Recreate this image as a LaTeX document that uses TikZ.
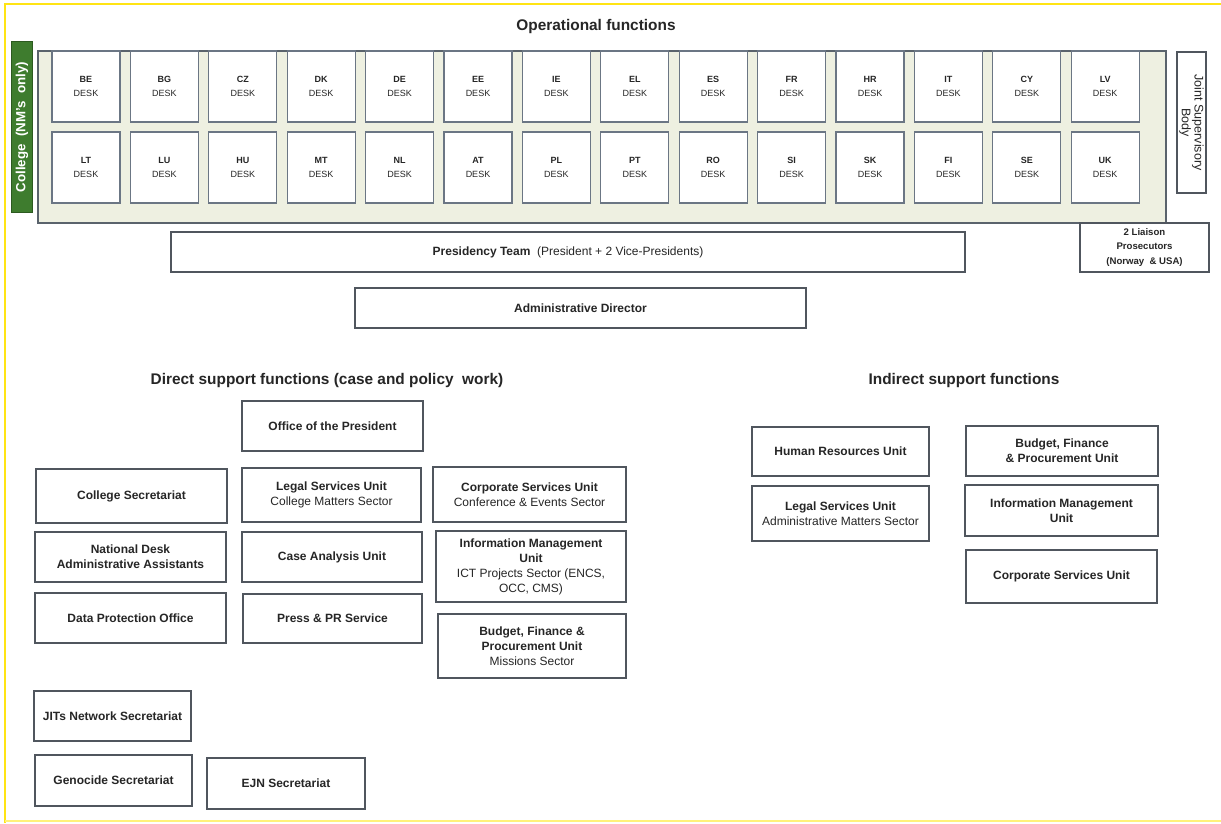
\documentclass[tikz,border=0pt]{standalone}
\usepackage{fontspec}
\setmainfont{Liberation Sans}
\definecolor{txt}{HTML}{262626}
\definecolor{bord}{HTML}{50565E}
\definecolor{deskbord}{HTML}{6B7684}
\definecolor{contfill}{HTML}{EEF0E1}
\definecolor{contbord}{HTML}{5A636C}
\definecolor{grn}{HTML}{3E7C2E}
\definecolor{grnd}{HTML}{2C5A20}
\definecolor{ylw}{HTML}{FFE414}
\definecolor{ylwl}{HTML}{FFF27A}
\tikzset{
  box/.style={draw=bord, line width=1.3pt, fill=white, inner sep=1pt, align=center,
    text=txt, font=\fontsize{12}{15}\selectfont},
  deskbox/.style={draw=deskbord, line width=1.1pt, fill=white, minimum width=68,
    minimum height=71, inner sep=0pt, align=center, text=txt, font=\fontsize{9}{14}\selectfont},
  head/.style={text=txt, font=\bfseries\fontsize{15.4}{18}\selectfont, inner sep=0pt},
}
\newcommand\bx[7][]{\node[box,minimum width={#5-#3},minimum height={#6-#4},#1] (#2) at ({(#3+#5)/2},{(#4+#6)/2}) {#7};}
\begin{document}
\begin{tikzpicture}[x=1pt,y=-1pt]
\useasboundingbox (0,0) rectangle (1221,823);
\fill[white] (0,0) rectangle (1221,823);
% frame
\draw[ylw, line width=2pt] (5,823) -- (5,4) -- (1221,4);
\draw[ylwl, line width=2pt] (5,821) -- (1221,821);
% headings
\node[head] (hops) at (596,27) {Operational functions};
\node[head] (hdir) at (327,381) {Direct support functions (case and policy~~work)};
\node[head] (hind) at (964,381) {Indirect support functions};
% container
\bx[fill=contfill, draw=contbord, line width=1.6pt]{ops}{38}{51}{1166}{223}{}
% desks
\foreach \c [count=\i from 0] in {BE,BG,CZ,DK,DE,EE,IE,EL,ES,FR,HR,IT,CY,LV}
  {\node[deskbox] (d\c) at ({86+78.4*\i},86.5) {\textbf{\c}\\DESK};}
\foreach \c [count=\i from 0] in {LT,LU,HU,MT,NL,AT,PL,PT,RO,SI,SK,FI,SE,UK}
  {\node[deskbox] (d\c) at ({86+78.4*\i},167.5) {\textbf{\c}\\DESK};}
% college
\node[draw=grnd, fill=grn, line width=1pt, rotate=90, minimum width=171, minimum height=21,
  inner sep=0pt, text=white, font=\bfseries\fontsize{13.3}{15}\selectfont] (college) at (22,127)
  {College~~(NM's~~only)};
% joint supervisory body
\node[draw=bord, fill=white, line width=1.3pt, rotate=-90, minimum width=141, minimum height=29,
  inner sep=0pt, align=center, text=txt, font=\fontsize{12.5}{11.5}\selectfont] (jsb) at (1191.5,122.5)
  {Joint Supervisory\\Body};
\bx[font=\bfseries\fontsize{9.6}{14.5}\selectfont]{liaison}{1080}{223}{1209}{272}{2 Liaison\\Prosecutors\\(Norway~~\& USA)}
% presidency
\bx{pres}{171}{232}{965}{272}{\textbf{Presidency Team}~~(President + 2 Vice-Presidents)}
\bx{admin}{355}{288}{806}{328}{\textbf{Administrative Director}}
% direct support
\bx{office}{242}{401}{423}{451}{\textbf{Office of the President}}
\bx{colsec}{36}{469}{227}{523}{\textbf{College Secretariat}}
\bx{legal1}{242}{468}{421}{522}{\textbf{Legal Services Unit}\\College Matters Sector}
\bx{corp1}{433}{467}{626}{522}{\textbf{Corporate Services Unit}\\Conference \& Events Sector}
\bx{natdesk}{35}{532}{226}{582}{\textbf{National Desk}\\\textbf{Administrative Assistants}}
\bx{case}{242}{532}{422}{582}{\textbf{Case Analysis Unit}}
\bx{info1}{436}{531}{626}{602}{\textbf{Information Management}\\\textbf{Unit}\\ICT Projects Sector (ENCS,\\OCC, CMS)}
\bx{dpo}{35}{593}{226}{643}{\textbf{Data Protection Office}}
\bx{press}{243}{594}{422}{643}{\textbf{Press \& PR Service}}
\bx{budget1}{438}{614}{626}{678}{\textbf{Budget, Finance \&}\\\textbf{Procurement Unit}\\Missions Sector}
\bx{jits}{34}{691}{191}{741}{\textbf{JITs Network Secretariat}}
\bx{geno}{35}{755}{192}{806}{\textbf{Genocide Secretariat}}
\bx{ejn}{207}{758}{365}{809}{\textbf{EJN Secretariat}}
% indirect support
\bx{hr}{752}{427}{929}{476}{\textbf{Human Resources Unit}}
\bx{legal2}{752}{486}{929}{541}{\textbf{Legal Services Unit}\\Administrative Matters Sector}
\bx{budget2}{966}{426}{1158}{476}{\textbf{Budget, Finance}\\\textbf{\& Procurement Unit}}
\bx{info2}{965}{485}{1158}{536}{\textbf{Information Management}\\\textbf{Unit}}
\bx{corp2}{966}{550}{1157}{603}{\textbf{Corporate Services Unit}}
\end{tikzpicture}
\end{document}
